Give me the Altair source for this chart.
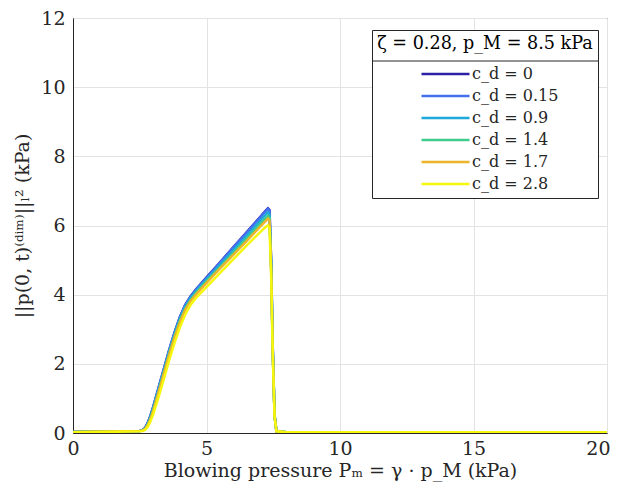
import altair as alt
import pandas as pd

# shared blowing-pressure grid (kPa)
x_vals = [0, 1, 2, 2.5, 2.6, 2.7, 2.8, 2.9, 3.0, 3.2, 3.4, 3.6, 3.8, 4.0, 4.2, 4.4, 4.6,
          5.0, 5.5, 6.0, 6.5, 7.0, 7.2, 7.3, 7.36, 7.42, 7.48, 7.55, 7.62, 8, 10, 20]

series_labels = ["c_d = 0", "c_d = 0.15", "c_d = 0.9", "c_d = 1.4", "c_d = 1.7", "c_d = 2.8"]
series_colors = ["#2d22a6", "#4470f0", "#1fa8dc", "#3fcc8c", "#ebb42a", "#f5f80e"]

y_c0 = [0.03, 0.04, 0.05, 0.06, 0.08, 0.15, 0.30, 0.50, 0.75, 1.30, 1.85, 2.40, 2.90, 3.35, 3.70, 3.95, 4.15,
        4.50, 4.93, 5.37, 5.80, 6.24, 6.42, 6.50, 6.45, 5.00, 2.50, 0.50, 0.05, 0.02, 0.02, 0.02]
y_c015 = [0.03, 0.04, 0.05, 0.06, 0.08, 0.14, 0.29, 0.49, 0.74, 1.29, 1.84, 2.39, 2.89, 3.34, 3.69, 3.94, 4.14,
          4.49, 4.92, 5.36, 5.79, 6.22, 6.40, 6.48, 6.43, 5.00, 2.50, 0.50, 0.05, 0.02, 0.02, 0.02]
y_c09 = [0.03, 0.04, 0.05, 0.06, 0.07, 0.13, 0.27, 0.46, 0.71, 1.25, 1.80, 2.35, 2.85, 3.30, 3.65, 3.90, 4.10,
         4.44, 4.86, 5.28, 5.70, 6.13, 6.30, 6.38, 6.33, 4.90, 2.45, 0.50, 0.05, 0.02, 0.02, 0.02]
y_c14 = [0.03, 0.04, 0.05, 0.06, 0.07, 0.12, 0.25, 0.43, 0.67, 1.20, 1.75, 2.30, 2.80, 3.25, 3.60, 3.85, 4.05,
         4.39, 4.80, 5.21, 5.62, 6.04, 6.20, 6.28, 6.23, 4.80, 2.40, 0.50, 0.05, 0.02, 0.02, 0.02]
y_c17 = [0.03, 0.04, 0.05, 0.06, 0.07, 0.11, 0.23, 0.40, 0.63, 1.16, 1.71, 2.26, 2.76, 3.20, 3.56, 3.81, 4.00,
         4.34, 4.75, 5.15, 5.55, 5.96, 6.12, 6.20, 6.15, 4.75, 2.40, 0.48, 0.05, 0.02, 0.02, 0.02]
y_c28 = [0.02, 0.03, 0.04, 0.05, 0.06, 0.09, 0.18, 0.33, 0.53, 1.02, 1.55, 2.10, 2.60, 3.05, 3.42, 3.70, 3.90,
         4.22, 4.62, 5.02, 5.42, 5.80, 5.95, 6.00, 5.93, 4.60, 2.30, 0.45, 0.05, 0.02, 0.02, 0.02]

all_y = [y_c0, y_c015, y_c09, y_c14, y_c17, y_c28]

rows = []
for lab, ys in zip(series_labels, all_y):
    for i, (xv, yv) in enumerate(zip(x_vals, ys)):
        rows.append({"x": xv, "y": yv, "series": lab, "i": i})
df = pd.DataFrame(rows)

FONT = "DejaVu Serif"
W, H = 534, 415

# legend box background (drawn as marks so the title separator can sit on top)
box_bg = alt.Chart(pd.DataFrame({"a": [0]})).mark_rect(color="white").encode(
    x=alt.value(299), x2=alt.value(525), y=alt.value(12), y2=alt.value(181)
)
sep = alt.Chart(pd.DataFrame({"a": [0]})).mark_rule(color="#262626", strokeWidth=1).encode(
    x=alt.value(299), x2=alt.value(525), y=alt.value(43)
)

lines = alt.Chart(df).mark_line(strokeWidth=2.5, clip=True).encode(
    x=alt.X("x:Q", scale=alt.Scale(domain=[0, 20], nice=False),
            axis=alt.Axis(values=[0, 5, 10, 15, 20], title="Blowing pressure Pₘ = γ · p_M (kPa)",
                          labelPadding=6, titlePadding=3, labelFlush=False,
                          labelAlign={"expr": "datum.value == 20 ? 'right' : 'center'"},
                          labelOffset={"expr": "datum.value == 20 ? 3 : 0"},
                          labelFont=FONT, titleFont=FONT)),
    y=alt.Y("y:Q", scale=alt.Scale(domain=[0, 12], nice=False),
            axis=alt.Axis(values=[0, 2, 4, 6, 8, 10, 12], title="||p(0, t)⁽ᵈⁱᵐ⁾||ₗ² (kPa)",
                          labelPadding=8, titlePadding=8, labelFlush=False,
                          labelFont=FONT, titleFont=FONT)),
    color=alt.Color("series:N",
                    scale=alt.Scale(domain=series_labels, range=series_colors),
                    legend=alt.Legend(
                        title="ζ = 0.28, p_M = 8.5 kPa",
                        orient="none", legendX=299, legendY=12,
                        direction="vertical",
                        strokeColor="#262626",
                        padding=5,
                        titleFont=FONT, titleFontSize=17.6, titleFontWeight="normal",
                        titleColor="#000000", titleAnchor="middle", titleAlign="center",
                        titlePadding=12, titleLimit=400,
                        labelFont=FONT, labelFontSize=16, labelColor="#262626",
                        symbolType="M-3,0H3", symbolStrokeWidth=2.5, symbolSize=256,
                        symbolOffset=24, labelOffset=17, rowPadding=4, labelLimit=300,
                    )),
    order="i:Q",
)

chart = alt.layer(box_bg, sep, lines).properties(
    width=W, height=H,
    autosize=alt.AutoSizeParams(type="none"),
    padding={"left": 65, "top": 10, "right": 3, "bottom": 54},
    background="white",
).configure(font=FONT).configure_view(stroke="#262626", strokeWidth=1).configure_axis(
    labelFont=FONT, titleFont=FONT, labelFontSize=19, titleFontSize=19,
    titleFontWeight="normal", labelColor="#262626", titleColor="#262626",
    gridColor="#e3e3e3", gridWidth=1, domainColor="#262626", ticks=False,
)

chart.save("out.html", embed_options={"renderer": "svg", "actions": False})
